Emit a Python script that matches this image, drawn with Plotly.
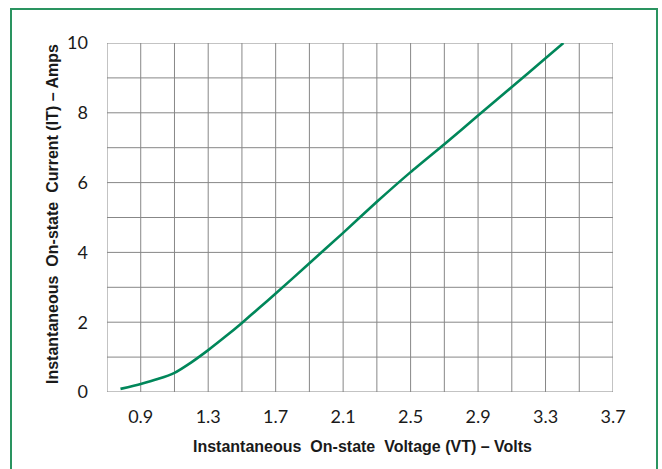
import plotly.graph_objects as go

voltage = [0.78, 0.9, 1.0, 1.1, 1.2, 1.3, 1.4, 1.5, 1.6, 1.7, 1.9, 2.1, 2.3, 2.5, 2.7, 2.9, 3.1, 3.3, 3.406]
current = [0.09, 0.23, 0.37, 0.55, 0.85, 1.2, 1.58, 1.98, 2.4, 2.82, 3.69, 4.56, 5.45, 6.3, 7.1, 7.92, 8.74, 9.56, 10.0]

x_ticks = [0.9, 1.3, 1.7, 2.1, 2.5, 2.9, 3.3, 3.7]
y_ticks = [0, 2, 4, 6, 8, 10]

x_title = "Instantaneous\u00a0 On-state\u00a0 Voltage (VT) – Volts"
y_title = "Instantaneous\u00a0 On-state\u00a0 Current (IT) – Amps"

W, H = 662, 469
L, R, T, B = 107, 49, 43, 77
pw, ph = W - L - R, H - T - B

fig = go.Figure()
fig.add_trace(go.Scatter(
    x=voltage, y=current, mode="lines",
    line=dict(color="#00875A", width=2.6, shape="spline", smoothing=0.6),
    hoverinfo="skip", showlegend=False,
))

tick_font = dict(size=18, family="Lato, 'Open Sans', sans-serif", color="#1a1a1a")
grid_col = "#878787"
fig.update_layout(
    width=W, height=H,
    margin=dict(l=L, r=R, t=T, b=B, pad=0),
    paper_bgcolor="white", plot_bgcolor="white",
    font=dict(family="Lato, 'Open Sans', sans-serif", color="#1a1a1a"),
    xaxis=dict(
        range=[0.7, 3.7], tickmode="array", tickvals=x_ticks,
        ticktext=[f"{v:.1f}" for v in x_ticks],
        showgrid=False, zeroline=False, showline=False,
        tickfont=tick_font, ticks="", ticklabelstandoff=12,
    ),
    yaxis=dict(
        range=[0, 10], tickmode="array", tickvals=y_ticks,
        showgrid=False, zeroline=False, showline=False,
        tickfont=tick_font, ticks="", ticklabelstandoff=18,
    ),
)

shapes = []
for i in range(16):
    xv = 0.7 + 0.2 * i
    shapes.append(dict(type="line", xref="x", yref="paper", x0=xv, x1=xv, y0=0, y1=1,
                       line=dict(color=grid_col, width=1), layer="below"))
for j in range(11):
    shapes.append(dict(type="line", xref="paper", yref="y", x0=0, x1=1, y0=j, y1=j,
                       line=dict(color=grid_col, width=1), layer="below"))
fx0, fx1 = (11 - L) / pw, (657 - L) / pw
fy1 = (T + ph - 9) / ph
fy0 = (T + ph - 480) / ph
shapes.append(dict(type="rect", xref="paper", yref="paper", x0=fx0, x1=fx1, y0=fy0, y1=fy1,
                   line=dict(color="#2a9460", width=2), fillcolor="rgba(0,0,0,0)", layer="below"))
fig.update_layout(shapes=shapes)

title_font = dict(size=16, family="'Liberation Sans', Arial, sans-serif", color="#1a1a1a")
fig.add_annotation(
    text=f"<b>{x_title}</b>", xref="paper", yref="paper",
    x=(362 - L) / pw, y=(T + ph - 447) / ph, showarrow=False,
    xanchor="center", yanchor="middle", font=title_font,
)
fig.add_annotation(
    text=f"<b>{y_title}</b>", xref="paper", yref="paper",
    x=(52 - L) / pw, y=(T + ph - 214) / ph, showarrow=False, textangle=-90,
    xanchor="center", yanchor="middle", font=title_font,
)

fig.write_html(
    "out.html",
    config={"displayModeBar": False, "staticPlot": True},
    post_script="document.body.style.margin='0';document.body.style.overflow='hidden';",
)
